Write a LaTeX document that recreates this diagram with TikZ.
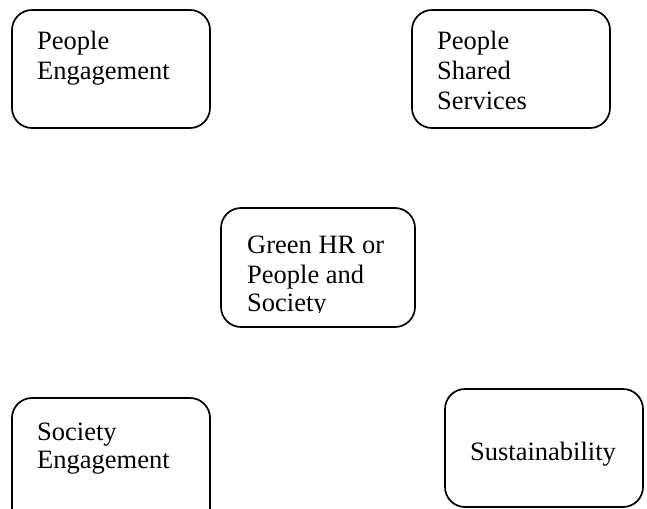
\documentclass[tikz,border=0pt]{standalone}
\usepackage{fontspec}
\setmainfont{Liberation Serif}
\begin{document}
\begin{tikzpicture}[x=1pt,y=-1pt,
  boxshape/.style={draw=black,line width=1.7pt,rounded corners=20pt},
  txt/.style={inner sep=0pt,anchor=base west,font=\fontsize{26.5}{30}\selectfont}]
\useasboundingbox (0,0) rectangle (647,508);
\clip (0,0) rectangle (647,508);
% boxes
\draw[boxshape] (12,10) rectangle (210,128);
\node[coordinate] (b1) at (111,69) {};
\draw[boxshape] (412,10) rectangle (610,128);
\node[coordinate] (b2) at (511,69) {};
\draw[boxshape] (221,208) rectangle (415,327);
\node[coordinate] (b3) at (318,268) {};
\draw[boxshape] (12,398) rectangle (210,540);
\node[coordinate] (b4) at (111,460) {};
\draw[boxshape] (445,389) rectangle (643,507);
\node[coordinate] (b5) at (544,448) {};
% texts
\node[txt] (t1a) at (37,50) {People};
\node[txt] (t1b) at (37,80) {Engagement};
\node[txt] (t2a) at (437,50) {People};
\node[txt] (t2b) at (437,80) {Shared};
\node[txt] (t2c) at (437,110) {Services};
\node[txt] (t3a) at (247,253) {Green HR or};
\node[txt] (t3b) at (247,283) {People and};
\begin{scope}
\clip (230,280) rectangle (410,312);
\node[txt] (t3c) at (247,311) {Society};
\end{scope}
\node[txt] (t4a) at (37,440) {Society};
\node[txt] (t4b) at (37,468) {Engagement};
\node[txt,anchor=base] (t5) at (543,460) {Sustainability};
\end{tikzpicture}
\end{document}
